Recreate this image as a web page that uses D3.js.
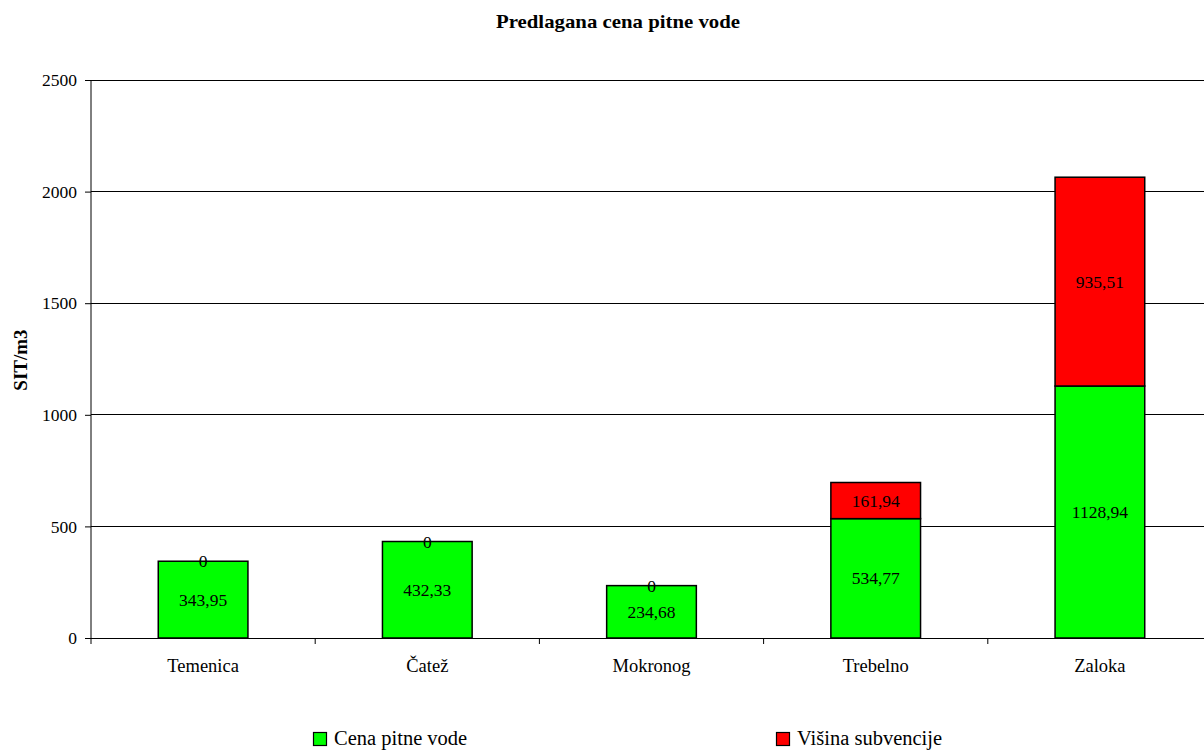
<!DOCTYPE html>
<html><head><meta charset="utf-8">
<script src="https://cdn.jsdelivr.net/npm/d3@7"></script>
<style>body{margin:0;background:#fff}svg{display:block;font-family:"Liberation Serif","Times New Roman",serif}</style>
</head><body><svg id="c" width="1204" height="751"></svg>
<script>
const categories = ["Temenica","Čatež","Mokronog","Trebelno","Zaloka"];
const cena = [343.95, 432.33, 234.68, 534.77, 1128.94];
const subvencija = [0, 0, 0, 161.94, 935.51];
const seriesNames = ["Cena pitne vode","Višina subvencije"];
const seriesColors = ["#00ff00","#ff0000"];
const yTicks = [0,500,1000,1500,2000,2500];
const fmt = v => String(Math.round(v*100)/100).replace(".", ",");

const svg = d3.select("#c");
const L = 91, R = 1212, T = 80, B = 638;
const x = d3.scaleBand().domain(categories).range([L, R]).paddingInner(0.6).paddingOuter(0.3);
const y = d3.scaleLinear().domain([0,2500]).range([B, T]);

svg.append("text").attr("x", 618).attr("y", 28).attr("text-anchor","middle")
  .attr("font-weight","bold").attr("font-size",19)
  .attr("textLength",244).attr("lengthAdjust","spacingAndGlyphs")
  .text("Predlagana cena pitne vode");

// gridlines
svg.append("g").selectAll("line").data(yTicks.filter(d=>d>0)).join("line")
  .attr("x1", L).attr("x2", R).attr("y1", d=>y(d)).attr("y2", d=>y(d))
  .attr("stroke","#000").attr("stroke-width",1).attr("shape-rendering","crispEdges");

// y axis
const ya = svg.append("g").attr("transform",`translate(${L},0)`)
  .call(d3.axisLeft(y).tickValues(yTicks).tickSize(6).tickPadding(8).tickFormat(d=>d));
ya.attr("font-family",null).attr("font-size",null);
ya.select(".domain").attr("d", `M0,${T}V${B}`).attr("stroke","#000");
ya.selectAll("text").attr("font-size",17.5).attr("fill","#000");
ya.selectAll("line").attr("stroke","#000");

// x axis
const band = x.step();
const xa = svg.append("g").attr("transform",`translate(0,${B})`);
xa.append("line").attr("x1",L-6).attr("x2",R).attr("y1",0).attr("y2",0).attr("stroke","#000").attr("shape-rendering","crispEdges");
xa.selectAll("line.t").data(d3.range(categories.length+1)).join("line").attr("class","t")
  .attr("x1",i=>L+i*band).attr("x2",i=>L+i*band).attr("y1",0).attr("y2",6).attr("stroke","#000");
xa.selectAll("text").data(categories).join("text")
  .attr("x", d=>x(d)+x.bandwidth()/2).attr("y", 34).attr("text-anchor","middle")
  .attr("font-size",18.5).text(d=>d);

svg.append("text").attr("transform","translate(27,360) rotate(-90)").attr("text-anchor","middle")
  .attr("font-weight","bold").attr("font-size",19).text("SIT/m3");

// stacked bars
const rows = categories.map((c,i)=>({cat:c, s0:cena[i], s1:subvencija[i]}));
const stack = d3.stack().keys(["s0","s1"])(rows);
stack.forEach((layer, k) => {
  const g = svg.append("g");
  g.selectAll("rect").data(layer).join("rect")
    .attr("x", d=>x(d.data.cat)).attr("width", x.bandwidth())
    .attr("y", d=>y(d[1])).attr("height", d=>y(d[0])-y(d[1]))
    .attr("fill", seriesColors[k]).attr("stroke","#000").attr("stroke-width",1.5);
  g.selectAll("text").data(layer).join("text")
    .attr("x", d=>x(d.data.cat)+x.bandwidth()/2)
    .attr("y", d=>(y(d[0])+y(d[1]))/2).attr("dy","0.35em")
    .attr("text-anchor","middle").attr("font-size",17.5)
    .text(d=>fmt(d[1]-d[0]));
});

// legend
const legX = [313, 776];
seriesNames.forEach((n,i)=>{
  const g = svg.append("g").attr("transform",`translate(${legX[i]},0)`);
  g.append("rect").attr("x",0.5).attr("y",732.5).attr("width",13).attr("height",13)
    .attr("fill",seriesColors[i]).attr("stroke","#000").attr("stroke-width",1.2);
  g.append("text").attr("x",21).attr("y",745).attr("font-size",20.5).text(n);
});
</script></body></html>
